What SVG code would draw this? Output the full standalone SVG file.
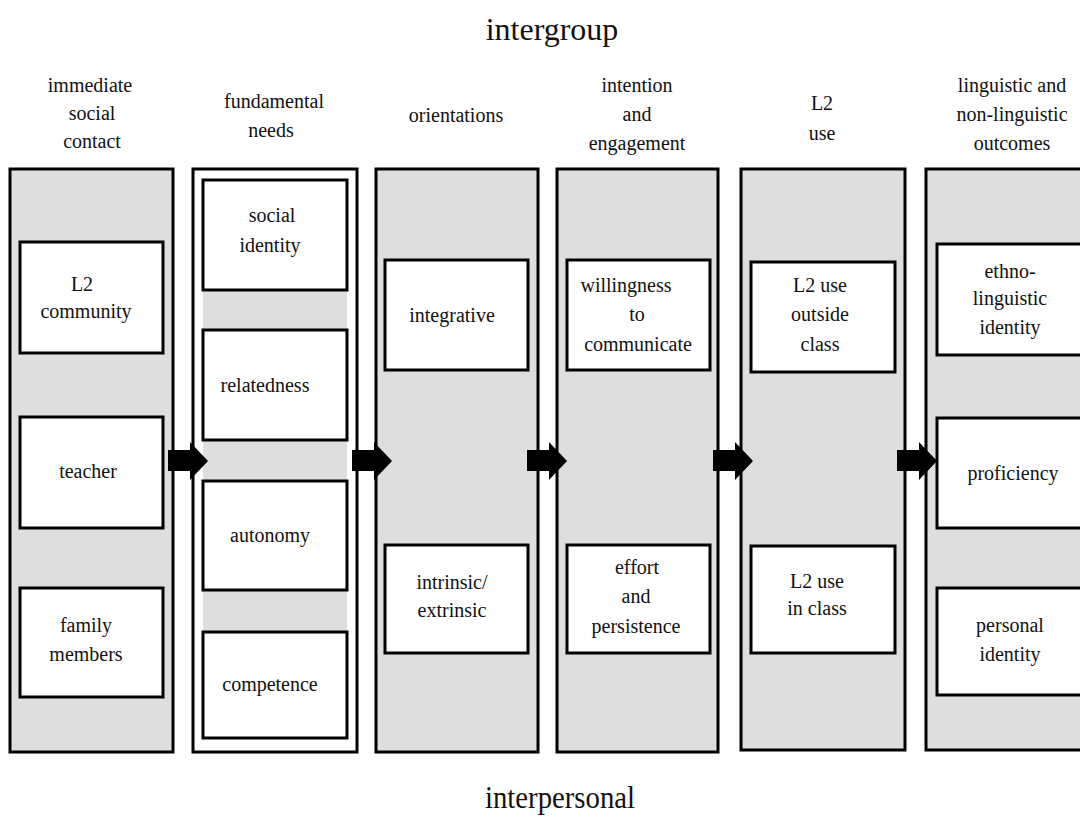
<svg xmlns="http://www.w3.org/2000/svg" width="1080" height="830" viewBox="0 0 1080 830">
<style>
text{font-family:"Liberation Serif","DejaVu Serif",serif;fill:#111;text-anchor:middle}
.t{font-size:20px}
.big{font-size:32px}
.col{fill:#dedede;stroke:#000;stroke-width:3}
.colw{fill:#fff;stroke:#000;stroke-width:3}
.box{fill:#fff;stroke:#000;stroke-width:3}
.strip{fill:#dedede;stroke:none}
</style>
<defs>
<path id="arr" d="M0,450 H22 V442 L40,461 L22,480 V471 H0 Z" fill="#000"/>
</defs>
<rect width="1080" height="830" fill="#fff"/>
<text class="big" x="552" y="40">intergroup</text>
<text class="big" x="560" y="808" textLength="150" lengthAdjust="spacingAndGlyphs">interpersonal</text>

<g id="h1"><text class="t" x="90" y="92">immediate</text><text class="t" x="92" y="120">social</text><text class="t" x="92" y="148">contact</text></g>
<g id="h2"><text class="t" x="274" y="108">fundamental</text><text class="t" x="271" y="137">needs</text></g>
<g id="h3"><text class="t" x="456" y="122">orientations</text></g>
<g id="h4"><text class="t" x="637" y="92">intention</text><text class="t" x="637" y="121">and</text><text class="t" x="637" y="150">engagement</text></g>
<g id="h5"><text class="t" x="822" y="110">L2</text><text class="t" x="822" y="140">use</text></g>
<g id="h6"><text class="t" x="1012" y="92">linguistic and</text><text class="t" x="1012" y="121">non-linguistic</text><text class="t" x="1012" y="150">outcomes</text></g>

<g id="col1">
<rect class="col" x="10" y="169" width="163" height="583"/>
<rect class="box" x="20" y="242" width="143" height="111"/>
<text class="t" x="82" y="291">L2</text><text class="t" x="86" y="318">community</text>
<rect class="box" x="20" y="417" width="143" height="111"/>
<text class="t" x="88" y="478">teacher</text>
<rect class="box" x="20" y="588" width="143" height="109"/>
<text class="t" x="86" y="632">family</text><text class="t" x="86" y="661">members</text>
</g>

<g id="col2">
<rect class="colw" x="193" y="169" width="164" height="583"/>
<rect class="strip" x="203" y="290" width="144" height="40"/>
<rect class="strip" x="203" y="440" width="144" height="41"/>
<rect class="strip" x="203" y="590" width="144" height="42"/>
<rect class="box" x="203" y="180" width="144" height="110"/>
<text class="t" x="272" y="222">social</text><text class="t" x="270" y="252">identity</text>
<rect class="box" x="203" y="330" width="144" height="110"/>
<text class="t" x="265" y="392">relatedness</text>
<rect class="box" x="203" y="481" width="144" height="109"/>
<text class="t" x="270" y="542">autonomy</text>
<rect class="box" x="203" y="632" width="144" height="106"/>
<text class="t" x="270" y="691">competence</text>
</g>

<g id="col3">
<rect class="col" x="376" y="169" width="162" height="583"/>
<rect class="box" x="385" y="260" width="143" height="110"/>
<text class="t" x="452" y="322">integrative</text>
<rect class="box" x="385" y="545" width="143" height="108"/>
<text class="t" x="452" y="589">intrinsic/</text><text class="t" x="452" y="617">extrinsic</text>
</g>

<g id="col4">
<rect class="col" x="557" y="169" width="161" height="583"/>
<rect class="box" x="567" y="260" width="143" height="110"/>
<text class="t" x="626" y="292">willingness</text><text class="t" x="637" y="321">to</text><text class="t" x="638" y="351">communicate</text>
<rect class="box" x="567" y="545" width="143" height="108"/>
<text class="t" x="637" y="574">effort</text><text class="t" x="636" y="603">and</text><text class="t" x="636" y="633">persistence</text>
</g>

<g id="col5">
<rect class="col" x="741" y="169" width="164" height="581"/>
<rect class="box" x="751" y="262" width="144" height="110"/>
<text class="t" x="820" y="292">L2 use</text><text class="t" x="820" y="321">outside</text><text class="t" x="820" y="351">class</text>
<rect class="box" x="751" y="546" width="144" height="107"/>
<text class="t" x="817" y="588">L2 use</text><text class="t" x="817" y="615">in class</text>
</g>

<g id="col6">
<rect class="col" x="926" y="169" width="160" height="581"/>
<rect class="box" x="937" y="244" width="146" height="111"/>
<text class="t" x="1010" y="278">ethno-</text><text class="t" x="1010" y="305">linguistic</text><text class="t" x="1010" y="334">identity</text>
<rect class="box" x="937" y="418" width="146" height="110"/>
<text class="t" x="1013" y="480">proficiency</text>
<rect class="box" x="937" y="588" width="146" height="107"/>
<text class="t" x="1010" y="632">personal</text><text class="t" x="1010" y="661">identity</text>
</g>

<g id="connectors">
<use href="#arr" x="168"/>
<use href="#arr" x="352"/>
<use href="#arr" x="527"/>
<use href="#arr" x="713"/>
<use href="#arr" x="897"/>
</g>
</svg>
